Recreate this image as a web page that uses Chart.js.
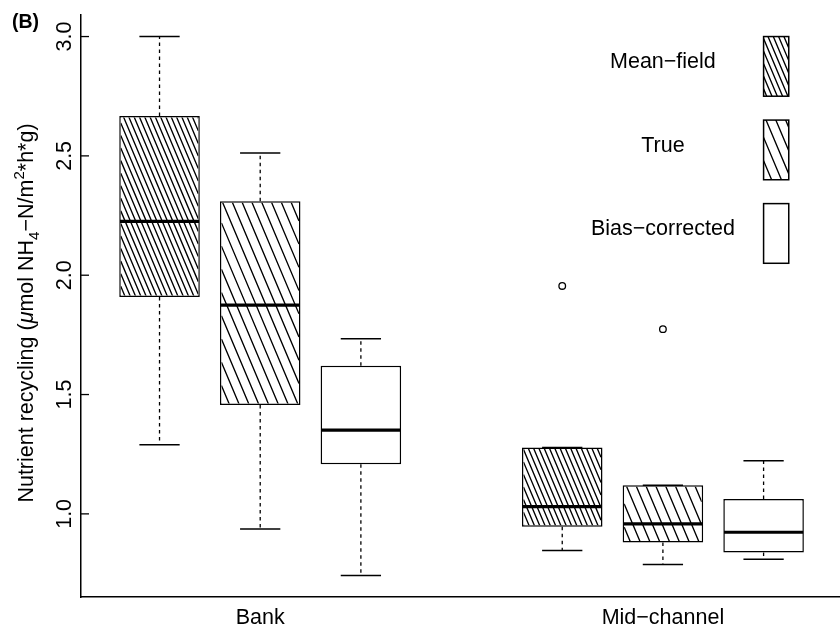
<!DOCTYPE html>
<html>
<head>
<meta charset="utf-8">
<script src="https://cdn.jsdelivr.net/npm/chart.js@4.4.1/dist/chart.umd.min.js"></script>
<style>
  html, body { margin: 0; padding: 0; background: #fff; }
  #wrap { position: relative; width: 840px; height: 631px; }
</style>
</head>
<body>
<div id="wrap"><canvas id="myChart"></canvas></div>
<script>
const categories = ['Bank', 'Mid\u2212channel'];
const categoryAt = [2, 6];
const seriesNames = ['Mean\u2212field', 'True', 'Bias\u2212corrected'];

// one entry per box: Bank x3, then Mid-channel x3
const boxAt = [1, 2, 3, 5, 6, 7];
const boxSeries = [0, 1, 2, 0, 1, 2];
const whiskerLow = [1.290, 0.937, 0.742, 0.847, 0.788, 0.810];
const quartile1 = [1.909, 1.456, 1.208, 0.946, 0.880, 0.838];
const medians = [2.226, 1.875, 1.351, 1.030, 0.958, 0.923];
const quartile3 = [2.667, 2.310, 1.621, 1.278, 1.120, 1.062];
const whiskerHigh = [3.000, 2.512, 1.734, 1.278, 1.120, 1.223];

const outlierAt = [5, 6];
const outlierValues = [1.955, 1.774];

const yTicks = [1.0, 1.5, 2.0, 2.5, 3.0];

// legend drawn inside the plot, in data units
const legendBoxX = [7, 7.25];
const legendBoxY = [[2.75, 3.0], [2.40, 2.65], [2.05, 2.30]];
const legendTextX = 6;

const hatchGap = [5.3, 9.8, 0]; // px between hatch lines, per series
const FONT = '"Liberation Sans", Arial, Helvetica, sans-serif';
const FS = 21.5;

const yTitle = [
  { t: 'Nutrient recycling (', s: 1, dy: 0 },
  { t: '\u03bc', s: 1, dy: 0, it: true },
  { t: 'mol NH', s: 1, dy: 0 },
  { t: '4', s: 0.7, dy: 0.28 },
  { t: '\u2212N/m', s: 1, dy: 0 },
  { t: '2', s: 0.7, dy: -0.42 },
  { t: '*h*g)', s: 1, dy: 0 },
];

function line(ctx, x1, y1, x2, y2) {
  ctx.beginPath();
  ctx.moveTo(x1, y1);
  ctx.lineTo(x2, y2);
  ctx.stroke();
}

function hatch(ctx, l, t, r, b, gap, k) {
  if (!gap) return;
  ctx.save();
  ctx.beginPath();
  ctx.rect(l, t, r - l, b - t);
  ctx.clip();
  ctx.strokeStyle = '#000';
  ctx.lineWidth = 1.35;
  ctx.beginPath();
  const step = k * gap;
  const cMax = b - k * l;
  for (let c = Math.floor((t - k * r) / step) * step; c <= cMax; c += step) {
    ctx.moveTo(l, k * l + c);
    ctx.lineTo(r, k * r + c);
  }
  ctx.stroke();
  ctx.restore();
}

function slope(x, y) {
  return Math.abs(y.getPixelForValue(1) - y.getPixelForValue(0)) /
         Math.abs(x.getPixelForValue(1) - x.getPixelForValue(0));
}

const boxExtras = {
  id: 'boxExtras',
  afterDatasetDraw(chart, args) {
    if (args.index !== 0) return;
    const { ctx, scales: { x, y } } = chart;
    const k = slope(x, y);
    const bw = 1.5;
    ctx.save();
    ctx.strokeStyle = '#000';
    chart.getDatasetMeta(0).data.forEach((bar, i) => {
      const half = bar.width / 2;
      const l = bar.x - half, r = bar.x + half;
      const t = Math.min(bar.y, bar.base), b = Math.max(bar.y, bar.base);
      hatch(ctx, l + bw, t + bw, r - bw, b - bw, hatchGap[boxSeries[i]], k);

      ctx.setLineDash([]);
      ctx.lineWidth = 3.2;
      const ym = y.getPixelForValue(medians[i]);
      line(ctx, l + bw / 2, ym, r - bw / 2, ym);

      const capHalf = x.getPixelForValue(boxAt[i] + 0.2) - bar.x;
      const yHi = y.getPixelForValue(whiskerHigh[i]);
      const yLo = y.getPixelForValue(whiskerLow[i]);
      ctx.lineWidth = 1.3;
      ctx.setLineDash([3.5, 3.5]);
      if (yHi < t) line(ctx, bar.x, t, bar.x, yHi);
      if (yLo > b) line(ctx, bar.x, b, bar.x, yLo);
      ctx.setLineDash([]);
      ctx.lineWidth = 1.5;
      line(ctx, bar.x - capHalf, yHi, bar.x + capHalf, yHi);
      line(ctx, bar.x - capHalf, yLo, bar.x + capHalf, yLo);
    });
    ctx.restore();
  },
  afterDraw(chart) {
    const { ctx, chartArea, scales: { x, y } } = chart;
    const k = slope(x, y);
    ctx.save();
    ctx.fillStyle = '#000';
    ctx.strokeStyle = '#000';

    // legend
    seriesNames.forEach((name, i) => {
      const l = x.getPixelForValue(legendBoxX[0]), r = x.getPixelForValue(legendBoxX[1]);
      const t = y.getPixelForValue(legendBoxY[i][1]), b = y.getPixelForValue(legendBoxY[i][0]);
      hatch(ctx, l, t, r, b, hatchGap[i], k);
      ctx.lineWidth = 1.5;
      ctx.strokeRect(l, t, r - l, b - t);
      ctx.font = FS + 'px ' + FONT;
      ctx.textAlign = 'center';
      ctx.textBaseline = 'alphabetic';
      ctx.fillText(name, x.getPixelForValue(legendTextX), (t + b) / 2 + 2);
    });

    // y ticks, pointing inward, with rotated labels
    ctx.lineWidth = 1.3;
    yTicks.forEach(v => {
      const py = y.getPixelForValue(v);
      line(ctx, chartArea.left, py, chartArea.left + 8, py);
      ctx.save();
      ctx.translate(70.5, py);
      ctx.rotate(-Math.PI / 2);
      ctx.font = FS + 'px ' + FONT;
      ctx.textAlign = 'center';
      ctx.fillText(v.toFixed(1), 0, 0);
      ctx.restore();
    });

    // y title with sub/superscripts
    ctx.save();
    ctx.translate(33, (chartArea.top + chartArea.bottom) / 2 + 7);
    ctx.rotate(-Math.PI / 2);
    ctx.textAlign = 'left';
    const fontOf = p => (p.it ? 'italic ' : '') + (FS * p.s) + 'px ' + FONT;
    let total = 0;
    yTitle.forEach(p => { ctx.font = fontOf(p); total += ctx.measureText(p.t).width; });
    let cx = -total / 2;
    yTitle.forEach(p => {
      ctx.font = fontOf(p);
      ctx.fillText(p.t, cx, p.dy * FS);
      cx += ctx.measureText(p.t).width;
    });
    ctx.restore();

    // panel letter
    ctx.font = 'bold 19.5px ' + FONT;
    ctx.textAlign = 'left';
    ctx.fillText('(B)', 12, 28);
    ctx.restore();
  }
};

const ctx = document.getElementById('myChart');
new Chart(ctx, {
  type: 'bar',
  data: {
    datasets: [
      {
        data: boxAt.map((v, i) => ({ x: v, y: [quartile1[i], quartile3[i]] })),
        backgroundColor: '#fff',
        borderColor: '#000',
        borderWidth: 1.5,
        borderSkipped: false,
        barPercentage: 0.8,
        categoryPercentage: 1.0,
      },
      {
        type: 'scatter',
        data: outlierAt.map((v, i) => ({ x: v, y: outlierValues[i] })),
        pointRadius: 3.3,
        pointBorderWidth: 1.3,
        pointBackgroundColor: 'rgba(0,0,0,0)',
        pointBorderColor: '#000',
      },
    ],
  },
  options: {
    responsive: true,
    maintainAspectRatio: false,
    animation: false,
    events: [],
    layout: { autoPadding: false, padding: { top: 15, right: 0, left: 0, bottom: 0 } },
    plugins: { legend: { display: false }, tooltip: { enabled: false } },
    scales: {
      x: {
        type: 'linear',
        offset: false,
        min: 0.22,
        max: 7.759,
        grid: { display: false, offset: false, drawTicks: false },
        border: { display: true, color: '#000', width: 1.5 },
        afterBuildTicks: s => { s.ticks = categoryAt.map(v => ({ value: v })); },
        afterFit: s => { s.height = 34; },
        ticks: {
          color: '#000',
          font: { family: FONT, size: FS },
          padding: 8,
          maxRotation: 0,
          autoSkip: false,
          callback: (v, i) => categories[i],
        },
      },
      y: {
        type: 'linear',
        min: 0.6517,
        max: 3.0903,
        grid: { display: false, drawTicks: false },
        border: { display: true, color: '#000', width: 1.5 },
        afterBuildTicks: s => { s.ticks = yTicks.map(v => ({ value: v })); },
        afterFit: s => { s.width = 81; },
        ticks: { display: false },
      },
    },
  },
  plugins: [boxExtras],
});
</script>
</body>
</html>
